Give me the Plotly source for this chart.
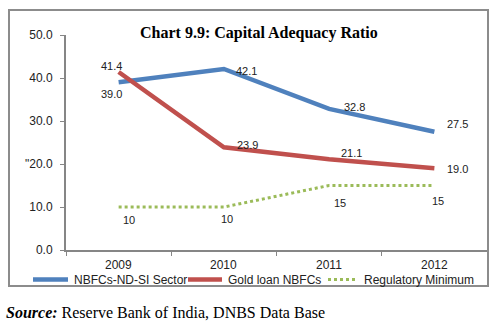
import plotly.graph_objects as go

years = ["2009", "2010", "2011", "2012"]
nbfc_ndsi = [39.0, 42.1, 32.8, 27.5]
gold_loan = [41.4, 23.9, 21.1, 19.0]
reg_min = [10, 10, 15, 15]
y_ticks = [0, 10, 20, 30, 40, 50]
y_ticktext = ["0.0", "10.0", "\"20.0", "30.0", "40.0", "50.0"]
series_names = ["NBFCs-ND-SI Sector", "Gold loan NBFCs", "Regulatory Minimum"]

blue = "#4F81BD"
red = "#C0504D"
green = "#9BBB59"

xpos = list(range(len(years)))

fig = go.Figure()
fig.add_trace(go.Scatter(x=xpos, y=nbfc_ndsi, mode="lines", name=series_names[0],
                         line=dict(color=blue, width=4.5)))
fig.add_trace(go.Scatter(x=xpos, y=gold_loan, mode="lines", name=series_names[1],
                         line=dict(color=red, width=4.5)))
fig.add_trace(go.Scatter(x=xpos, y=reg_min, mode="lines", name=series_names[2],
                         line=dict(color=green, width=3, dash="dot")))

# label offsets (style only)
shifts_blue = [(-7, -12), (23, -2), (25, 2), (23, 8)]
shifts_red = [(-7, 6), (24, 2), (22, 6), (23, -1)]
shifts_green = [(10, -13), (3, -12), (11, -17), (4, -15)]

ann = []
def add_labels(vals, shifts, fmt):
    for x, v, (dx, dy) in zip(xpos, vals, shifts):
        ann.append(dict(x=x, y=v, xref="x", yref="y", text=fmt.format(v), showarrow=False,
                        xshift=dx, yshift=dy,
                        font=dict(family="Liberation Sans", size=11, color="#222")))

add_labels(nbfc_ndsi, shifts_blue, "{:.1f}")
add_labels(gold_loan, shifts_red, "{:.1f}")
add_labels(reg_min, shifts_green, "{:d}")

# category labels below the axis
for x, yr in zip(xpos, years):
    ann.append(dict(x=x, y=0, xref="x", yref="y", text=yr, showarrow=False, yshift=-15,
                    font=dict(family="Liberation Sans", size=12, color="#222")))

W, H = 495, 321
L, R, T, B = 66, 8, 35, 71
PW, PH = W - L - R, H - T - B
def px(x):
    return (x - L) / PW
def py(y):
    return (H - B - y) / PH

ann.append(dict(xref="paper", yref="paper", x=px(259), y=py(22),
                text="<b>Chart 9.9: Capital Adequacy Ratio</b>", showarrow=False,
                font=dict(family="Liberation Serif", size=16, color="#000")))
ann.append(dict(xref="paper", yref="paper", x=px(4), y=py(312),
                xanchor="left", yanchor="middle",
                text="<b><i>Source:</i></b> Reserve Bank of India, DNBS Data Base", showarrow=False,
                font=dict(family="Liberation Serif", size=16, color="#000")))

# custom legend
legend_items = [(blue, 4.5, "solid", 33, 68, 72), (red, 4.5, "solid", 188, 222, 226),
                (green, 3, "dot", 328, 357, 362)]
shapes = [dict(type="rect", xref="paper", yref="paper",
               x0=px(9), x1=px(488), y0=py(286), y1=py(10),
               line=dict(color="#8c8c8c", width=2))]
ly = 279.5
for name, (col, w, dash, x0, x1, tx) in zip(series_names, legend_items):
    shapes.append(dict(type="line", xref="paper", yref="paper", x0=px(x0), x1=px(x1),
                       y0=py(ly), y1=py(ly), line=dict(color=col, width=w, dash=dash)))
    ann.append(dict(xref="paper", yref="paper", x=px(tx), y=py(ly), xanchor="left",
                    yanchor="middle", text=name, showarrow=False,
                    font=dict(family="Liberation Sans", size=12, color="#222")))

fig.update_layout(
    width=W, height=H,
    margin=dict(l=L, r=R, t=T, b=B),
    paper_bgcolor="white", plot_bgcolor="white",
    annotations=ann, shapes=shapes,
    showlegend=False,
)
fig.update_xaxes(range=[-0.5, len(years) - 0.5],
                 tickvals=[i - 0.5 for i in range(len(years) + 1)],
                 ticktext=[""] * (len(years) + 1),
                 ticks="outside", ticklen=4,
                 tickcolor="#868686", showline=True, linecolor="#868686", linewidth=2,
                 showgrid=False, zeroline=False)
fig.update_yaxes(range=[0, 50], tickvals=y_ticks, ticktext=y_ticktext, ticks="outside",
                 ticklen=4, tickcolor="#868686", showline=True, linecolor="#868686",
                 linewidth=2, showgrid=False, zeroline=False, ticklabelstandoff=5,
                 tickfont=dict(family="Liberation Sans", size=12, color="#222"))

fig.write_html("out.html")
